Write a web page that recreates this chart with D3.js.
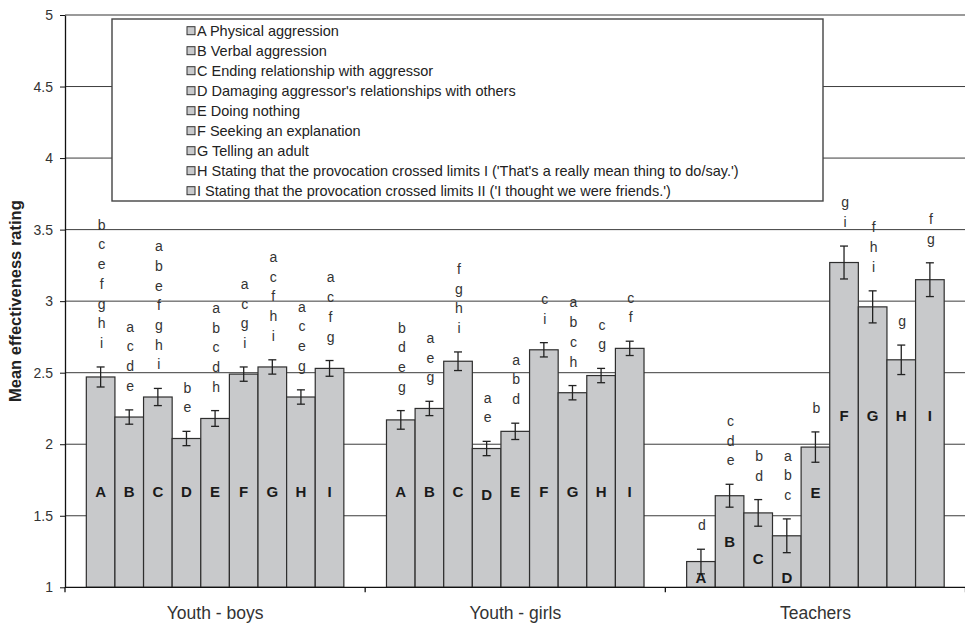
<!DOCTYPE html>
<html>
<head>
<meta charset="utf-8">
<script src="https://cdn.jsdelivr.net/npm/d3@7"></script>
<style>
  html, body { margin: 0; padding: 0; background: #fff; }
  svg { display: block; font-family: "Liberation Sans", Arial, sans-serif; }
</style>
</head>
<body>
<svg id="chart" width="965" height="624"></svg>
<script>
// Groups of respondents and the nine response strategies
const groups = ["Youth - boys", "Youth - girls", "Teachers"];
const strategies = ["A", "B", "C", "D", "E", "F", "G", "H", "I"];
const strategyNames = [
  "A Physical aggression",
  "B Verbal aggression",
  "C Ending relationship with aggressor",
  "D Damaging aggressor's relationships with others",
  "E Doing nothing",
  "F Seeking an explanation",
  "G Telling an adult",
  "H Stating that the provocation crossed limits I ('That's a really mean thing to do/say.')",
  "I Stating that the provocation crossed limits II ('I thought we were friends.')"
];

// Mean effectiveness ratings and standard errors
const boysMean     = [2.47, 2.19, 2.33, 2.04, 2.18, 2.49, 2.54, 2.33, 2.53];
const boysErr      = [0.07, 0.05, 0.06, 0.05, 0.055, 0.05, 0.05, 0.05, 0.055];
const girlsMean    = [2.17, 2.25, 2.58, 1.97, 2.09, 2.66, 2.36, 2.48, 2.67];
const girlsErr     = [0.065, 0.05, 0.065, 0.05, 0.057, 0.05, 0.05, 0.05, 0.05];
const teachersMean = [1.18, 1.64, 1.52, 1.36, 1.98, 3.27, 2.96, 2.59, 3.15];
const teachersErr  = [0.086, 0.08, 0.093, 0.118, 0.106, 0.115, 0.112, 0.103, 0.118];

// Significant-difference letters above each bar
const boysSig = ["bcefghi", "acde", "abefghi", "be", "abcdh", "acgi", "acfhi", "aceg", "acfg"];
const girlsSig = ["bdeg", "aeg", "fghi", "ae", "abd", "ci", "abch", "cg", "cf"];
const teachersSig = ["d", "cde", "bd", "abc", "b", "gi", "fhi", "g", "fg"];

// Y axis tick values
const yTicks = [1, 1.5, 2, 2.5, 3, 3.5, 4, 4.5, 5];

const means = [boysMean, girlsMean, teachersMean];
const errs = [boysErr, girlsErr, teachersErr];
const sigs = [boysSig, girlsSig, teachersSig];

const rows = [];
groups.forEach((g, gi) => {
  strategies.forEach((s, si) => {
    rows.push({ group: g, gi, strategy: s, mean: means[gi][si], err: errs[gi][si], sig: sigs[gi][si] });
  });
});

const svg = d3.select("#chart");
const plotLeft = 65, plotRight = 965.5, plotTop = 15, plotBottom = 587.3;
const font = "'Liberation Sans', Arial, sans-serif";

const y = d3.scaleLinear().domain([1, 5]).range([plotBottom, plotTop]);
const x0 = d3.scaleBand().domain(groups).range([plotLeft, plotRight]).padding(0);
const x1 = d3.scaleBand().domain(strategies).range([0, x0.bandwidth()])
  .paddingInner(0).paddingOuter(0.745);

svg.append("rect").attr("width", 965).attr("height", 624).attr("fill", "#fff");

// Horizontal gridlines
svg.append("g").selectAll("line")
  .data(yTicks.filter(v => v > 1))
  .join("line")
  .attr("x1", plotLeft).attr("x2", plotRight)
  .attr("y1", d => y(d)).attr("y2", d => y(d))
  .attr("stroke", d => d === 5 ? "#9a9a9a" : "#3c3c3c")
  .attr("stroke-width", d => d === 5 ? 2 : 1);

// Legend box
const legend = svg.append("g");
legend.append("rect")
  .attr("x", 112).attr("y", 19).attr("width", 711).attr("height", 182)
  .attr("fill", "#fff").attr("stroke", "#444").attr("stroke-width", 1.4);
const items = legend.selectAll("g.item").data(strategyNames).join("g")
  .attr("class", "item")
  .attr("transform", (d, i) => `translate(187, ${30.7 + i * 20})`);
items.append("rect")
  .attr("x", 0).attr("y", -4).attr("width", 8).attr("height", 8)
  .attr("fill", "#c8c9cb").attr("stroke", "#333").attr("stroke-width", 1);
items.append("text")
  .attr("x", 10).attr("y", 5)
  .attr("font-size", 14.5).attr("fill", "#222")
  .text(d => d);

// Bars
svg.append("g").selectAll("rect").data(rows).join("rect")
  .attr("x", d => x0(d.group) + x1(d.strategy))
  .attr("width", x1.bandwidth())
  .attr("y", d => y(d.mean))
  .attr("height", d => y(1) - y(d.mean))
  .attr("fill", "#c8c9cb")
  .attr("stroke", "#2e2e2e")
  .attr("stroke-width", 1.2);

// Error bars
const eb = svg.append("g").attr("stroke", "#222").attr("stroke-width", 1.3);
rows.forEach(d => {
  const cx = x0(d.group) + x1(d.strategy) + x1.bandwidth() / 2;
  const y1 = y(d.mean + d.err), y2 = y(d.mean - d.err);
  eb.append("line").attr("x1", cx).attr("x2", cx).attr("y1", y1).attr("y2", y2);
  eb.append("line").attr("x1", cx - 4).attr("x2", cx + 4).attr("y1", y1).attr("y2", y1);
  eb.append("line").attr("x1", cx - 4).attr("x2", cx + 4).attr("y1", y2).attr("y2", y2);
});

// Letter labels inside the bars
const labelLevel = [1.67, 1.67, 2.2];
svg.append("g").selectAll("text").data(rows).join("text")
  .attr("x", d => x0(d.group) + x1(d.strategy) + x1.bandwidth() / 2)
  .attr("y", d => y(Math.max(1.07, Math.min(labelLevel[d.gi], d.mean - 0.32))) + 5.5)
  .attr("text-anchor", "middle")
  .attr("font-size", 15).attr("font-weight", "bold").attr("fill", "#1a1a1a")
  .text(d => d.strategy);

// Significance letters stacked above each error bar
const sigG = svg.append("g").attr("font-size", 14).attr("fill", "#333").attr("text-anchor", "middle");
rows.forEach(d => {
  const cx = x0(d.group) + x1(d.strategy) + x1.bandwidth() / 2 + 1;
  const base = y(d.mean + d.err) - 19;
  const letters = d.sig.split("");
  letters.forEach((ch, k) => {
    sigG.append("text")
      .attr("x", cx)
      .attr("y", base - (letters.length - 1 - k) * 19.7)
      .text(ch);
  });
});

// Y axis
const yAxis = svg.append("g")
  .attr("transform", `translate(${plotLeft},0)`)
  .call(d3.axisLeft(y).tickValues(yTicks).tickFormat(d3.format("~g"))
    .tickSize(5).tickSizeOuter(0).tickPadding(7));
yAxis.select(".domain").attr("stroke", "#111").attr("stroke-width", 1.3);
yAxis.selectAll(".tick line").attr("stroke", "#111");
yAxis.selectAll("text").attr("font-size", 14).attr("font-family", font).attr("fill", "#333");

// X axis: category labels
const xAxis = svg.append("g")
  .attr("transform", `translate(0,${plotBottom})`)
  .call(d3.axisBottom(x0).tickSize(0).tickPadding(19));
xAxis.select(".domain").remove();
xAxis.selectAll("text").attr("font-size", 17.5).attr("font-family", font).attr("fill", "#333");

// Baseline and group-separator ticks
svg.append("line")
  .attr("x1", plotLeft).attr("x2", plotRight).attr("y1", plotBottom).attr("y2", plotBottom)
  .attr("stroke", "#111").attr("stroke-width", 1.3);
const bounds = groups.map(g => x0(g)).concat([x0(groups[groups.length - 1]) + x0.bandwidth()]);
svg.append("g").selectAll("line").data(bounds).join("line")
  .attr("x1", d => d).attr("x2", d => d)
  .attr("y1", plotBottom).attr("y2", plotBottom + 5)
  .attr("stroke", "#111").attr("stroke-width", 1.3);

// Y axis title
svg.append("text")
  .attr("transform", `translate(21, ${(plotTop + plotBottom) / 2}) rotate(-90)`)
  .attr("text-anchor", "middle")
  .attr("font-size", 16.5).attr("font-weight", "bold").attr("fill", "#222")
  .text("Mean effectiveness rating");
</script>
</body>
</html>
